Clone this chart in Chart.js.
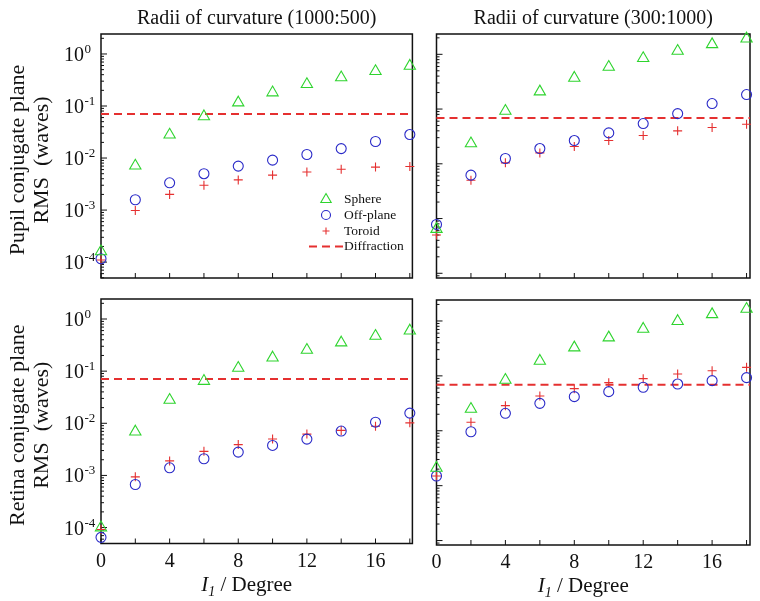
<!DOCTYPE html>
<html>
<head>
<meta charset="utf-8">
<script src="https://cdn.jsdelivr.net/npm/chart.js@4.4.1/dist/chart.umd.min.js"></script>
<style>
  body { margin: 0; background: #fff; }
  #wrap { position: relative; width: 760px; height: 601px; background: #fff; }
  canvas { position: absolute; }
</style>
</head>
<body>
<div id="wrap">
  <canvas id="tl" width="420" height="290" style="left:0;top:0"></canvas>
  <canvas id="tr" width="340" height="290" style="left:420px;top:0"></canvas>
  <canvas id="bl" width="420" height="311" style="left:0;top:290px"></canvas>
  <canvas id="br" width="340" height="311" style="left:420px;top:290px"></canvas>
</div>
<script>
const angles = [0, 2, 4, 6, 8, 10, 12, 14, 16, 18];
const seriesNames = ['Sphere', 'Off-plane', 'Toroid', 'Diffraction'];
const colTitles = ['Radii of curvature (1000:500)', 'Radii of curvature (300:1000)'];
const rowTitles = [['Pupil conjugate plane', 'RMS  (waves)'], ['Retina conjugate plane', 'RMS  (waves)']];
const yTickExps = [0, -1, -2, -3, -4];
const xTickLabels = [0, 4, 8, 12, 16];

// pupil conjugate plane, 1000:500
const pupilSphereA = [1.6e-4, 7.1e-3, 0.028, 0.063, 0.116, 0.181, 0.262, 0.352, 0.465, 0.589];
const pupilOffA = [1.16e-4, 1.58e-3, 3.34e-3, 5.0e-3, 7.0e-3, 9.1e-3, 0.0117, 0.0152, 0.0208, 0.0283];
const pupilToroidA = [1.1e-4, 9.8e-4, 2.0e-3, 3.0e-3, 3.8e-3, 4.7e-3, 5.4e-3, 6.1e-3, 6.7e-3, 6.9e-3];
// pupil conjugate plane, 300:1000
const pupilSphereB = [6.4e-4, 0.0235, 0.092, 0.208, 0.37, 0.587, 0.845, 1.15, 1.52, 1.93];
const pupilOffB = [7.8e-4, 6.2e-3, 0.0125, 0.019, 0.0266, 0.0367, 0.0543, 0.0826, 0.126, 0.184];
const pupilToroidB = [5.0e-4, 5.0e-3, 0.0104, 0.0158, 0.0207, 0.0266, 0.0328, 0.040, 0.046, 0.0528];
// retina conjugate plane, 1000:500
const retinaSphereA = [1.0e-4, 6.9e-3, 0.0279, 0.0645, 0.115, 0.181, 0.254, 0.352, 0.472, 0.597];
const retinaOffA = [6.5e-5, 6.7e-4, 1.4e-3, 2.09e-3, 2.8e-3, 3.76e-3, 4.98e-3, 7.1e-3, 0.0105, 0.0157];
const retinaToroidA = [9.2e-5, 9.4e-4, 1.9e-3, 2.9e-3, 3.9e-3, 5.0e-3, 6.2e-3, 7.3e-3, 8.8e-3, 0.0102];
// retina conjugate plane, 300:1000
const retinaSphereB = [2.1e-3, 0.0249, 0.084, 0.187, 0.327, 0.497, 0.715, 0.99, 1.32, 1.65];
const retinaOffB = [1.5e-3, 9.6e-3, 0.0208, 0.0316, 0.0418, 0.0516, 0.062, 0.071, 0.0818, 0.093];
const retinaToroidB = [1.5e-3, 0.0143, 0.0287, 0.043, 0.0585, 0.0753, 0.0889, 0.108, 0.124, 0.143];
// diffraction limit: tl, tr, bl, br
const diffraction = [0.0705, 0.069, 0.0705, 0.069];

const SERIF = "'Liberation Serif', 'Times New Roman', serif";
const GREEN = '#2ed42e', BLUE = '#2a2ac8', RED = '#e53030', INK = '#111';

function pts(vals) {
  return angles.map((a, i) => ({ x: a, y: vals[i] }));
}

function marker(ctx, style, x, y, r) {
  ctx.beginPath();
  if (style === 'triangle') {
    for (let k = 0; k < 3; k++) {
      const t = k * 2 * Math.PI / 3;
      const px = x + Math.sin(t) * r, py = y - Math.cos(t) * r;
      k ? ctx.lineTo(px, py) : ctx.moveTo(px, py);
    }
    ctx.closePath();
  } else if (style === 'circle') {
    ctx.arc(x, y, r, 0, Math.PI * 2);
  } else {
    ctx.moveTo(x - r, y); ctx.lineTo(x + r, y);
    ctx.moveTo(x, y - r); ctx.lineTo(x, y + r);
  }
  ctx.stroke();
}

function axesPlugin(o) {
  return {
    id: 'axes',
    beforeDatasetsDraw(chart) {
      const { ctx, chartArea: a, scales: { x, y } } = chart;
      ctx.save();
      ctx.strokeStyle = INK;
      ctx.lineWidth = 1;
      ctx.beginPath();
      angles.forEach(v => {
        const px = x.getPixelForValue(v);
        ctx.moveTo(px, a.bottom); ctx.lineTo(px, a.bottom - 5);
      });
      for (let k = -5; k <= 0; k++) {
        for (let m = 1; m <= 9; m++) {
          const v = m * Math.pow(10, k);
          if (v < y.min || v > y.max) continue;
          const py = y.getPixelForValue(v);
          ctx.moveTo(a.left, py); ctx.lineTo(a.left + (m === 1 ? 6 : 3), py);
        }
      }
      ctx.stroke();
      ctx.lineWidth = 1.5;
      ctx.strokeRect(a.left, a.top, a.right - a.left, a.bottom - a.top);
      ctx.restore();
    },
    afterDraw(chart) {
      const { ctx, chartArea: a, scales: { x, y } } = chart;
      const cx = (a.left + a.right) / 2;
      ctx.save();
      ctx.fillStyle = INK;
      ctx.textBaseline = 'alphabetic';
      if (o.title) {
        ctx.font = '20px ' + SERIF;
        ctx.textAlign = 'center';
        ctx.fillText(o.title, cx, a.top - 10);
      }
      if (o.yLabels) {
        yTickExps.forEach(e => {
          const py = y.getPixelForValue(Math.pow(10, e));
          ctx.textAlign = 'left';
          ctx.font = '20px ' + SERIF;
          const lx = a.left - 37;
          ctx.fillText('10', lx, py + 7);
          const w = ctx.measureText('10').width;
          ctx.font = '13px ' + SERIF;
          ctx.fillText(e === 0 ? '0' : '-' + Math.abs(e), lx + w + 0.5, py - 1);
        });
        ctx.font = '22px ' + SERIF;
        ctx.textAlign = 'center';
        ctx.textBaseline = 'middle';
        const cy = (a.top + a.bottom) / 2 + 4;
        [18, 42].forEach((tx, i) => {
          ctx.save();
          ctx.translate(tx, cy);
          ctx.rotate(-Math.PI / 2);
          ctx.fillText(o.yTitle[i], 0, 0);
          ctx.restore();
        });
        ctx.textBaseline = 'alphabetic';
      }
      if (o.xLabels) {
        ctx.font = '20px ' + SERIF;
        ctx.textAlign = 'center';
        xTickLabels.forEach(v => {
          ctx.fillText(String(v), x.getPixelForValue(v), a.bottom + 23);
        });
        // I_1 / Degree
        ctx.textAlign = 'left';
        const fI = 'italic 21px ' + SERIF, fSub = 'italic 14px ' + SERIF, fRest = '21px ' + SERIF;
        ctx.font = fI; const wI = ctx.measureText('I').width;
        ctx.font = fSub; const wS = ctx.measureText('1').width;
        ctx.font = fRest; const wR = ctx.measureText(' / Degree').width;
        let tx = cx - 10 - (wI + wS + wR) / 2;
        const by = a.bottom + 47;
        ctx.font = fI; ctx.fillText('I', tx, by); tx += wI;
        ctx.font = fSub; ctx.fillText('1', tx, by + 5); tx += wS;
        ctx.font = fRest; ctx.fillText(' / Degree', tx, by);
      }
      if (o.legend) {
        const lx = 326, ly = [199.5, 215, 231, 246.5];
        ctx.lineWidth = 1.1;
        ctx.strokeStyle = GREEN; marker(ctx, 'triangle', lx, ly[0], 6);
        ctx.strokeStyle = BLUE; marker(ctx, 'circle', lx, ly[1], 4.5);
        ctx.strokeStyle = RED; marker(ctx, 'cross', lx, ly[2], 3.5);
        ctx.lineWidth = 2; ctx.setLineDash([8, 5]);
        ctx.beginPath(); ctx.moveTo(309, ly[3]); ctx.lineTo(343, ly[3]); ctx.stroke();
        ctx.setLineDash([]);
        ctx.font = '13.5px ' + SERIF;
        ctx.textAlign = 'left';
        ctx.textBaseline = 'middle';
        seriesNames.forEach((s, i) => ctx.fillText(s, 344, ly[i]));
      }
      ctx.restore();
    }
  };
}

function makePanel(id, o) {
  const ds = (label, vals, style, r, color) => ({
    label, data: pts(vals), pointStyle: style, pointRadius: r, pointHoverRadius: r,
    borderColor: color, backgroundColor: 'rgba(0,0,0,0)', borderWidth: 1.1, showLine: false, clip: false
  });
  return new Chart(document.getElementById(id), {
    type: 'scatter',
    data: {
      datasets: [
        ds(seriesNames[0], o.sphere, 'triangle', 6.5, GREEN),
        ds(seriesNames[1], o.off, 'circle', 5, BLUE),
        ds(seriesNames[2], o.toroid, 'cross', 4.5, RED),
        {
          label: seriesNames[3], data: [{ x: 0, y: o.diff }, { x: o.xMax, y: o.diff }],
          showLine: true, pointRadius: 0, borderColor: RED, borderWidth: 2,
          borderDash: [8, 5], clip: false
        }
      ]
    },
    options: {
      responsive: false, animation: false, devicePixelRatio: 1, events: [],
      layout: { padding: o.pad },
      plugins: { legend: { display: false }, tooltip: { enabled: false } },
      scales: {
        x: { type: 'linear', min: 0, max: o.xMax, display: false },
        y: { type: 'logarithmic', min: o.yMin, max: o.yMax, display: false }
      }
    },
    plugins: [axesPlugin(o)]
  });
}

makePanel('tl', {
  sphere: pupilSphereA, off: pupilOffA, toroid: pupilToroidA, diff: diffraction[0],
  xMax: 18.15, yMin: 4.95e-5, yMax: 2.42,
  pad: { left: 101, right: 7.5, top: 34, bottom: 12 },
  title: colTitles[0], yLabels: true, yTitle: rowTitles[0], legend: true
});
makePanel('tr', {
  sphere: pupilSphereB, off: pupilOffB, toroid: pupilToroidB, diff: diffraction[1],
  xMax: 18.2, yMin: 8.2e-5, yMax: 2.35,
  pad: { left: 16.5, right: 10, top: 34, bottom: 12 },
  title: colTitles[1]
});
makePanel('bl', {
  sphere: retinaSphereA, off: retinaOffA, toroid: retinaToroidA, diff: diffraction[2],
  xMax: 18.15, yMin: 4.95e-5, yMax: 2.42,
  pad: { left: 101, right: 7.5, top: 9, bottom: 57.5 },
  yLabels: true, yTitle: rowTitles[1], xLabels: true
});
makePanel('br', {
  sphere: retinaSphereB, off: retinaOffB, toroid: retinaToroidB, diff: diffraction[3],
  xMax: 18.2, yMin: 8.3e-5, yMax: 2.41,
  pad: { left: 16.5, right: 10, top: 10, bottom: 56 },
  xLabels: true
});
</script>
</body>
</html>
